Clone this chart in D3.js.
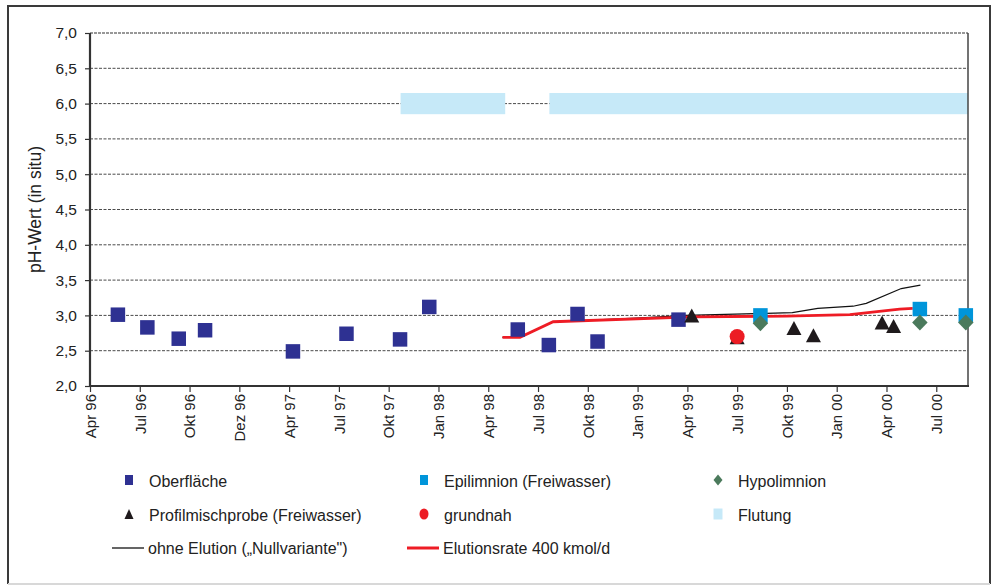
<!DOCTYPE html>
<html>
<head>
<meta charset="utf-8">
<script src="https://cdn.jsdelivr.net/npm/d3@7"></script>
<style>
  html, body { margin: 0; padding: 0; background: #fff; }
  svg { display: block; font-family: "Liberation Sans", Arial, Helvetica, sans-serif; }
</style>
</head>
<body>
<svg id="chart" width="996" height="586"></svg>
<script>
// Axis ticks (quarterly labels as printed on the axis)
const tickDates = ["1996-04-01","1996-07-01","1996-10-01","1996-12-01","1997-04-01","1997-07-01",
  "1997-10-01","1998-01-01","1998-04-01","1998-07-01","1998-10-01","1999-01-01","1999-04-01",
  "1999-07-01","1999-10-01","2000-01-01","2000-04-01","2000-07-01"];
const tickLabels = ["Apr 96","Jul 96","Okt 96","Dez 96","Apr 97","Jul 97","Okt 97","Jan 98","Apr 98",
  "Jul 98","Okt 98","Jan 99","Apr 99","Jul 99","Okt 99","Jan 00","Apr 00","Jul 00"];
const axisEnd = "2000-08-28";
const yTicks = [2.0, 2.5, 3.0, 3.5, 4.0, 4.5, 5.0, 5.5, 6.0, 6.5, 7.0];

// Measured pH values
const oberflaeche = [
  ["1996-05-22", 3.01], ["1996-07-15", 2.83], ["1996-09-11", 2.67], ["1996-10-20", 2.79],
  ["1997-04-08", 2.49], ["1997-07-15", 2.74], ["1997-10-22", 2.66], ["1997-12-15", 3.12],
  ["1998-05-25", 2.80], ["1998-07-21", 2.58], ["1998-09-12", 3.02], ["1998-10-19", 2.63],
  ["1999-03-16", 2.94]
];
const epilimnion = [["1999-08-13", 3.00], ["2000-06-01", 3.09], ["2000-08-24", 3.00]];
const hypolimnion = [["1999-08-13", 2.89], ["2000-06-01", 2.90], ["2000-08-24", 2.90]];
const profilmisch = [
  ["1999-04-09", 3.00], ["1999-07-01", 2.69], ["1999-10-14", 2.82], ["1999-11-19", 2.72],
  ["2000-03-24", 2.90], ["2000-04-14", 2.85]
];
const grundnah = [["1999-07-01", 2.70]];

// Flooding periods
const flutung = [["1997-10-23", "1998-05-02"], ["1998-07-22", "2000-08-28"]];
const flutungLevel = 6.0;

// Model runs
const ohneElution = [
  ["1998-04-27", 2.69], ["1998-05-29", 2.69], ["1998-07-29", 2.91], ["1998-12-30", 2.96],
  ["1999-03-30", 3.00], ["1999-08-24", 3.03], ["1999-10-11", 3.04], ["1999-11-27", 3.10],
  ["2000-01-31", 3.13], ["2000-02-24", 3.17], ["2000-04-28", 3.38], ["2000-06-02", 3.43]
];
const elution400 = [
  ["1998-04-27", 2.69], ["1998-05-29", 2.69], ["1998-07-29", 2.91], ["1999-04-11", 2.98],
  ["1999-09-30", 2.99], ["2000-01-25", 3.01], ["2000-04-25", 3.09], ["2000-05-19", 3.10]
];

const colors = {
  ober: "#2e3192", epi: "#0095da", hypo: "#4b7a5c", profil: "#1f1a1c",
  grund: "#ec1c24", flut: "#c6e9f8", ohne: "#111111", elu: "#ee1c25"
};

const parse = d3.timeParse("%Y-%m-%d");
const svg = d3.select("#chart");
const W = 996, H = 586;
const plot = { left: 90, right: 968, top: 33, bottom: 386 };
const FONT = "'Liberation Sans', Arial, sans-serif";

// Outer frame
svg.append("path")
  .attr("d", `M8,${H - 2} L8,6 L990,6 L990,${H - 2}`)
  .attr("fill", "none").attr("stroke", "#3a3a3a").attr("stroke-width", 2);
svg.append("line").attr("x1", 8).attr("x2", 990).attr("y1", H - 2).attr("y2", H - 2)
  .attr("stroke", "#d8d8d8").attr("stroke-width", 2);

// x: evenly spaced quarterly ticks, piecewise-linear in time between them
const tDates = tickDates.map(parse);
const idx = d3.scaleTime().domain(tDates).range(tDates.map((d, i) => i));
const step = (plot.right - plot.left) / idx(parse(axisEnd));
const x = d3.scaleTime().domain(tDates).range(tDates.map((d, i) => plot.left + i * step));
const y = d3.scaleLinear().domain([2, 7]).range([plot.bottom, plot.top]);

const fmt = v => d3.format(".1f")(v).replace(".", ",");

// Grid lines
svg.append("g").selectAll("line").data(yTicks.filter(v => v > 2 && v < 7)).join("line")
  .attr("x1", plot.left).attr("x2", plot.right)
  .attr("y1", d => y(d)).attr("y2", d => y(d))
  .attr("stroke", "#4a4a4a").attr("stroke-width", 1).attr("stroke-dasharray", "3,1.5");

// Flooding bars
const barHalf = 0.15;
svg.append("g").selectAll("rect").data(flutung).join("rect")
  .attr("x", d => x(parse(d[0])))
  .attr("width", d => x(parse(d[1])) - x(parse(d[0])))
  .attr("y", y(flutungLevel + barHalf))
  .attr("height", y(flutungLevel - barHalf) - y(flutungLevel + barHalf))
  .attr("fill", colors.flut);

// Plot frame: top and right edges
svg.append("line").attr("x1", plot.left).attr("x2", plot.right).attr("y1", plot.top).attr("y2", plot.top)
  .attr("stroke", "#333").attr("stroke-width", 1.2).attr("stroke-dasharray", "3,1");
svg.append("line").attr("x1", plot.right).attr("x2", plot.right).attr("y1", plot.top).attr("y2", plot.bottom)
  .attr("stroke", "#444").attr("stroke-width", 1.5);

// Axes
const yAxis = svg.append("g").attr("transform", `translate(${plot.left},0)`)
  .call(d3.axisLeft(y).tickValues(yTicks).tickFormat(fmt).tickSize(5).tickPadding(8));
yAxis.select(".domain").remove();
yAxis.selectAll(".tick line").attr("stroke", "#333").attr("stroke-width", 1.2);
yAxis.selectAll(".tick text").attr("font-size", 15.5).attr("fill", "#222").attr("font-family", FONT);

const xAxis = svg.append("g").attr("transform", `translate(0,${plot.bottom})`)
  .call(d3.axisBottom(x).tickValues(tDates).tickFormat((d, i) => tickLabels[i]).tickSize(6));
xAxis.select(".domain").remove();
xAxis.selectAll(".tick line").attr("stroke", "#333").attr("stroke-width", 1.2);
xAxis.selectAll(".tick text")
  .attr("transform", "rotate(-90)")
  .attr("x", -8).attr("y", 0).attr("dy", "0.35em")
  .style("text-anchor", "end")
  .attr("font-size", 15).attr("fill", "#222").attr("font-family", FONT);

svg.append("line").attr("x1", plot.left).attr("x2", plot.left).attr("y1", plot.top).attr("y2", plot.bottom + 1)
  .attr("stroke", "#333").attr("stroke-width", 2.2);
svg.append("line").attr("x1", plot.left - 1).attr("x2", plot.right + 1).attr("y1", plot.bottom).attr("y2", plot.bottom)
  .attr("stroke", "#333").attr("stroke-width", 2.2);

// Y axis title
svg.append("text")
  .attr("transform", `translate(35,${(plot.top + plot.bottom) / 2}) rotate(-90)`)
  .attr("text-anchor", "middle").attr("dy", "0.35em")
  .attr("font-size", 17.5).attr("fill", "#222")
  .text("pH-Wert (in situ)");

// Model lines
const line = d3.line().x(d => x(parse(d[0]))).y(d => y(d[1]));
svg.append("path").datum(ohneElution).attr("d", line)
  .attr("fill", "none").attr("stroke", colors.ohne).attr("stroke-width", 1.2);
svg.append("path").datum(elution400).attr("d", line)
  .attr("fill", "none").attr("stroke", colors.elu).attr("stroke-width", 2.8);

// Marker shapes (width w, height h)
const shapes = {
  square: (w, h) => `M${-w / 2},${-h / 2}h${w}v${h}h${-w}Z`,
  diamond: (w, h) => `M0,${-h / 2}L${w / 2},0L0,${h / 2}L${-w / 2},0Z`,
  triangle: (w, h) => `M0,${-h / 2}L${w / 2},${h / 2}L${-w / 2},${h / 2}Z`,
  circle: (w, h) => `M${-w / 2},0a${w / 2},${h / 2} 0 1,0 ${w},0a${w / 2},${h / 2} 0 1,0 ${-w},0Z`
};
function markers(data, kind, w, h, color) {
  svg.append("g").selectAll("path").data(data).join("path")
    .attr("transform", d => `translate(${x(parse(d[0]))},${y(d[1])})`)
    .attr("d", shapes[kind](w, h))
    .attr("fill", color);
}
markers(oberflaeche, "square", 14.5, 14.5, colors.ober);
markers(epilimnion, "square", 14.5, 14.5, colors.epi);
markers(hypolimnion, "diamond", 15.5, 16, colors.hypo);
markers(profilmisch, "triangle", 15, 14, colors.profil);
markers(grundnah, "circle", 15, 15, colors.grund);

// Legend
const legendItems = [
  { label: "Oberfläche", kind: "square", color: colors.ober, col: 0, row: 0 },
  { label: "Epilimnion (Freiwasser)", kind: "square", color: colors.epi, col: 1, row: 0 },
  { label: "Hypolimnion", kind: "diamond", color: colors.hypo, col: 2, row: 0 },
  { label: "Profilmischprobe (Freiwasser)", kind: "triangle", color: colors.profil, col: 0, row: 1 },
  { label: "grundnah", kind: "circle", color: colors.grund, col: 1, row: 1 },
  { label: "Flutung", kind: "box", color: colors.flut, col: 2, row: 1 },
  { label: "ohne Elution (\u201eNullvariante\")", kind: "thin", color: colors.ohne, col: 0, row: 2 },
  { label: "Elutionsrate 400 kmol/d", kind: "thick", color: colors.elu, col: 1, row: 2 }
];
const legCol = [129, 424, 718];
const legRow = [481, 515, 548];
const leg = svg.append("g").selectAll("g").data(legendItems).join("g")
  .attr("transform", d => `translate(${legCol[d.col]},${legRow[d.row]})`);
leg.each(function (d) {
  const g = d3.select(this);
  if (d.kind === "square") g.append("path").attr("d", shapes.square(8, 10)).attr("transform", "translate(0,-1)").attr("fill", d.color);
  if (d.kind === "diamond") g.append("path").attr("d", shapes.diamond(9, 11)).attr("transform", "translate(0,-1)").attr("fill", d.color);
  if (d.kind === "triangle") g.append("path").attr("d", shapes.triangle(9, 10)).attr("transform", "translate(0,-1)").attr("fill", d.color);
  if (d.kind === "circle") g.append("path").attr("d", shapes.circle(9, 11)).attr("transform", "translate(0,-1)").attr("fill", d.color);
  if (d.kind === "box") g.append("path").attr("d", shapes.square(9, 11)).attr("transform", "translate(0,-1)").attr("fill", d.color);
  if (d.kind === "thin") g.append("line").attr("x1", -17).attr("x2", 15).attr("stroke", d.color).attr("stroke-width", 1.3);
  if (d.kind === "thick") g.append("line").attr("x1", -17).attr("x2", 15).attr("stroke", d.color).attr("stroke-width", 3);
  g.append("text").attr("x", d.kind === "thin" || d.kind === "thick" ? 19 : 20).attr("dy", "0.35em")
    .attr("font-size", 16).attr("fill", "#222").text(d.label);
});
</script>
</body>
</html>
